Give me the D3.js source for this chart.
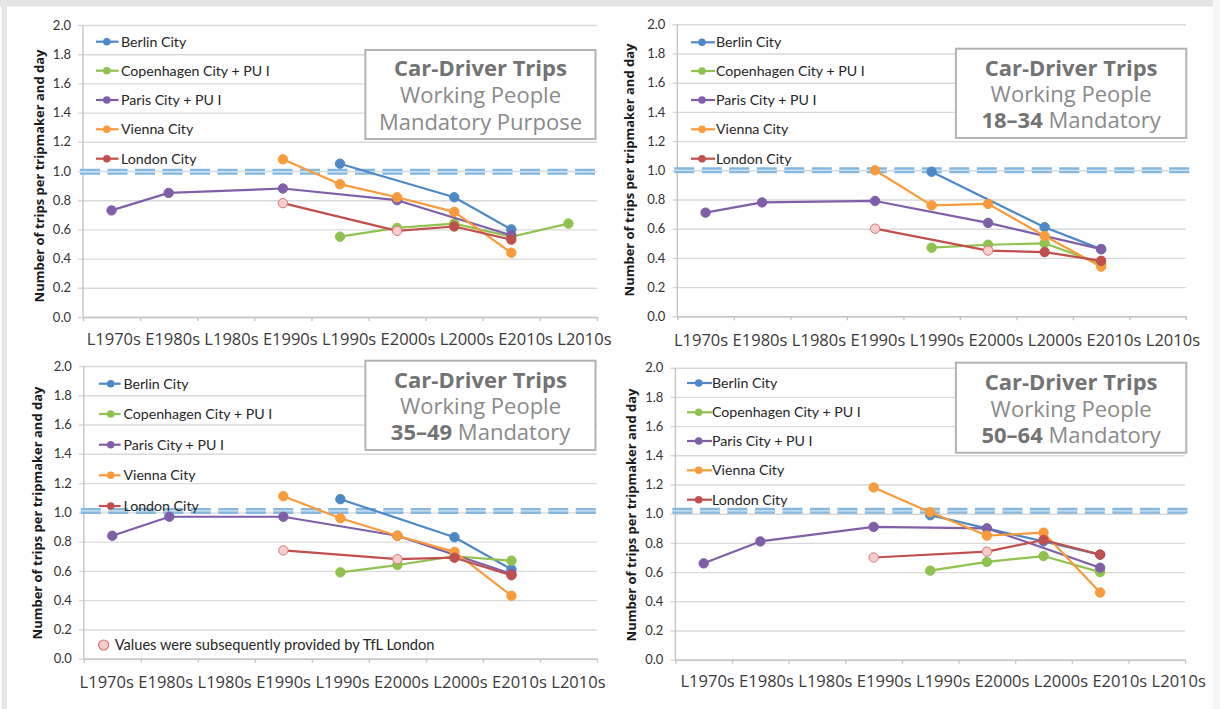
<!DOCTYPE html>
<html><head><meta charset="utf-8">
<script src="https://cdn.jsdelivr.net/npm/d3@7"></script>
<style>
body{margin:0;background:#fff;}
svg{display:block;}
</style></head>
<body>
<svg id="chart" width="1220" height="709"></svg>
<script>
// ---------- data ----------
const categories = ["L1970s","E1980s","L1980s","E1990s","L1990s","E2000s","L2000s","E2010s","L2010s"];
const seriesNames = ["Berlin City","Copenhagen City + PU I","Paris City + PU I","Vienna City","London City"];
const yTickValues = [0,0.2,0.4,0.6,0.8,1.0,1.2,1.4,1.6,1.8,2.0];
const referenceLevels = [0.995, 1.0, 1.01, 1.02];
const titleLine1 = "Car-Driver Trips";
const titleLine2 = "Working People";
const titleAgeGroups = ["", "18–34", "35–49", "50–64"];
const titleLine3Rest = ["Mandatory Purpose", " Mandatory", " Mandatory", " Mandatory"];
const yAxisTitle = "Number of trips per tripmaker and day";
const noteText = "Values were subsequently provided by TfL London";
const providedLaterCategories = ["E1990s","E2000s"];

// Working people, mandatory purpose (all ages)
const allBerlin     = [null,null,null,null,1.05,null,0.82,0.60,null];
const allCopenhagen = [null,null,null,null,0.55,0.61,0.64,0.55,0.64];
const allParis      = [0.73,0.85,null,0.88,null,0.80,null,0.56,null];
const allVienna     = [null,null,null,1.08,0.91,0.82,0.72,0.44,null];
const allLondon     = [null,null,null,0.78,null,0.59,0.62,0.53,null];
// 18–34
const a1834Berlin     = [null,null,null,null,0.99,null,0.61,0.46,null];
const a1834Copenhagen = [null,null,null,null,0.47,0.49,0.50,0.36,null];
const a1834Paris      = [0.71,0.78,null,0.79,null,0.64,null,0.46,null];
const a1834Vienna     = [null,null,null,1.00,0.76,0.77,0.55,0.34,null];
const a1834London     = [null,null,null,0.60,null,0.45,0.44,0.38,null];
// 35–49
const a3549Berlin     = [null,null,null,null,1.09,null,0.83,0.61,null];
const a3549Copenhagen = [null,null,null,null,0.59,0.64,0.70,0.67,null];
const a3549Paris      = [0.84,0.97,null,0.97,null,0.84,null,0.58,null];
const a3549Vienna     = [null,null,null,1.11,0.96,0.84,0.73,0.43,null];
const a3549London     = [null,null,null,0.74,null,0.68,0.69,0.57,null];
// 50–64
const a5064Berlin     = [null,null,null,null,0.99,null,0.81,0.72,null];
const a5064Copenhagen = [null,null,null,null,0.61,0.67,0.71,0.60,null];
const a5064Paris      = [0.66,0.81,null,0.91,null,0.90,null,0.63,null];
const a5064Vienna     = [null,null,null,1.18,1.01,0.85,0.87,0.46,null];
const a5064London     = [null,null,null,0.70,null,0.74,0.82,0.72,null];

const panelSeries = [
  [allBerlin, allCopenhagen, allParis, allVienna, allLondon],
  [a1834Berlin, a1834Copenhagen, a1834Paris, a1834Vienna, a1834London],
  [a3549Berlin, a3549Copenhagen, a3549Paris, a3549Vienna, a3549London],
  [a5064Berlin, a5064Copenhagen, a5064Paris, a5064Vienna, a5064London]
];

// ---------- styles / layout ----------
const seriesColors = ["#4e88c7","#8fc24f","#7f5fa8","#f99a3b","#c0504d"];
const pinkFill = "#f6cccc", pinkStroke = "#d47a78";
const layout = [
  {left:83,   right:597,    top:25,    bottom:317,   labelSpan:[86.2,611],   labelY:344.5, yTitle:[39,176],
   box:[365.4,50,595.5,139],   titleCx:480.5,  titleBase:[76,103,129.5],
   legend:{x1:96, x2:118.6, mx:106.8, tx:121}, legendY:[41.7,70.7,100,129.3,158.7]},
  {left:677.3,right:1185.9, top:24.3,  bottom:316.3, labelSpan:[673.4,1199.5], labelY:346, yTitle:[629.5,170],
   box:[955.9,48.7,1186.3,138], titleCx:1071.1, titleBase:[75.5,101.5,128],
   legend:{x1:691, x2:715, mx:702, tx:716}, legendY:[42.3,71,100,129.3,158.7]},
  {left:83.8, right:597,    top:366,   bottom:658.7, labelSpan:[79.1,605],   labelY:688, yTitle:[37.6,513],
   box:[365.4,360.7,595.5,450], titleCx:480.5, titleBase:[388,414,440],
   legend:{x1:98.9, x2:120.6, mx:110.7, tx:123.4}, legendY:[383.7,414,444.7,475.3,506]},
  {left:675.4,right:1185.1, top:367.7, bottom:659.7, labelSpan:[680,1205.3], labelY:687, yTitle:[631.4,515],
   box:[955.9,362.7,1186.3,452.7], titleCx:1071.1, titleBase:[390,416.5,443],
   legend:{x1:687, x2:712, mx:698.7, tx:712}, legendY:[383,412.3,441,470.3,499.7]}
];
const notePos = {cx:103.6, cy:645, tx:114.7, ty:650};

const svg = d3.select("#chart");

function measure(text, family, weight, size) {
  const t = svg.append("text").attr("font-family", family).attr("font-weight", weight)
    .attr("font-size", size).text(text);
  const w = t.node().getComputedTextLength();
  t.remove();
  return w;
}
function fit(text, family, weight, target) {
  return 100 * target / measure(text, family, weight, 100);
}

const LABEL_FONT = "'Open Sans', sans-serif";
const LEG_FONT = "Lato, 'Noto Sans', sans-serif";
const xLabelSize = fit(categories.join(" "), LABEL_FONT, 400, 524.8);
const yTitleSize = fit(yAxisTitle, LABEL_FONT, 700, 253);
const titleSize = fit(titleLine2, LABEL_FONT, 400, 161);
const legendSize = fit(seriesNames[1], LEG_FONT, 400, 149);
const noteSize = fit(noteText, LEG_FONT, 400, 320);

// frame
svg.append("rect").attr("x",0).attr("y",0).attr("width",1220).attr("height",709).attr("fill","#fff");
svg.append("rect").attr("x",0).attr("y",0).attr("width",1220).attr("height",6.5).attr("fill","#e4e4e4");
svg.append("rect").attr("x",1.5).attr("y",0).attr("width",5.5).attr("height",709).attr("fill","#e6e6e6");
svg.append("rect").attr("x",1213).attr("y",0).attr("width",7).attr("height",709).attr("fill","#f6f6f6");

layout.forEach((p, pi) => {
  const g = svg.append("g");
  const x = d3.scaleBand().domain(categories).range([p.left, p.right]).padding(0);
  const y = d3.scaleLinear().domain([0, 2]).range([p.bottom, p.top]);
  const cx = c => x(c) + x.bandwidth() / 2;

  // gridlines + y tick labels
  const gy = g.append("g").attr("transform", `translate(${p.left},0)`)
    .call(d3.axisLeft(y).tickValues(yTickValues).tickSize(-(p.right - p.left))
      .tickPadding(12).tickFormat(d3.format(".1f")));
  gy.select(".domain").remove();
  gy.selectAll(".tick line").attr("x1", -5).attr("stroke", "#d9d9d9").attr("stroke-width", 1.4);
  gy.selectAll(".tick text").attr("font-family", LEG_FONT).attr("font-size", 13).attr("fill", "#333");

  // left axis line
  g.append("line").attr("x1", p.left).attr("x2", p.left).attr("y1", p.top).attr("y2", p.bottom)
    .attr("stroke", "#c4c4c4").attr("stroke-width", 1.4);

  // x axis with boundary ticks
  const xb = d3.scaleLinear().domain([0, categories.length]).range([p.left, p.right]);
  const gx = g.append("g").attr("transform", `translate(0,${p.bottom})`)
    .call(d3.axisBottom(xb).tickValues(d3.range(categories.length + 1)).tickSize(4)
      .tickSizeOuter(0).tickFormat(""));
  gx.select(".domain").attr("stroke", "#c4c4c4").attr("stroke-width", 1.4);
  gx.selectAll(".tick line").attr("stroke", "#c4c4c4").attr("stroke-width", 1.4);

  // x labels (separate text row)
  const w0 = measure(categories[0], LABEL_FONT, 400, xLabelSize);
  const w8 = measure(categories[categories.length - 1], LABEL_FONT, 400, xLabelSize);
  const xl = d3.scalePoint().domain(categories).range([p.labelSpan[0] + w0 / 2, p.labelSpan[1] - w8 / 2]);
  const gl = g.append("g").attr("transform", `translate(0,${p.labelY})`)
    .call(d3.axisBottom(xl).tickSize(0).tickPadding(0));
  gl.select(".domain").remove();
  gl.selectAll(".tick text").attr("y", 0).attr("dy", 0).attr("font-family", LABEL_FONT)
    .attr("font-size", xLabelSize).attr("fill", "#3a3a3a");

  // y-axis title
  g.append("text").attr("transform", `translate(${p.yTitle[0]},${p.yTitle[1]}) rotate(-90)`)
    .attr("text-anchor", "middle").attr("dy", "0.35em")
    .attr("font-family", LABEL_FONT).attr("font-weight", 700).attr("font-size", yTitleSize)
    .attr("fill", "#1a1a1a").text(yAxisTitle);

  // reference double dashed line
  const ry = y(referenceLevels[pi]);
  g.append("line").attr("x1", p.left - 3).attr("x2", p.right + 5).attr("y1", ry).attr("y2", ry)
    .attr("stroke", "#86b8df").attr("stroke-width", 6).attr("stroke-dasharray", "20,7.5");
  g.append("line").attr("x1", p.left - 3).attr("x2", p.right + 5).attr("y1", ry).attr("y2", ry)
    .attr("stroke", "#d3e6f5").attr("stroke-width", 1.3).attr("stroke-dasharray", "20,7.5");

  // title box
  g.append("rect").attr("x", p.box[0]).attr("y", p.box[1])
    .attr("width", p.box[2] - p.box[0]).attr("height", p.box[3] - p.box[1])
    .attr("fill", "#fff").attr("stroke", "#b3b3b3").attr("stroke-width", 2);
  g.append("text").attr("x", p.titleCx).attr("y", p.titleBase[0]).attr("text-anchor", "middle")
    .attr("font-family", LABEL_FONT).attr("font-weight", 700).attr("font-size", titleSize)
    .attr("fill", "#737373").text(titleLine1);
  g.append("text").attr("x", p.titleCx).attr("y", p.titleBase[1]).attr("text-anchor", "middle")
    .attr("font-family", LABEL_FONT).attr("font-size", titleSize)
    .attr("fill", "#8a8a8a").text(titleLine2);
  const t3 = g.append("text").attr("x", p.titleCx).attr("y", p.titleBase[2]).attr("text-anchor", "middle")
    .attr("font-family", LABEL_FONT).attr("font-size", titleSize).attr("fill", "#8a8a8a");
  if (titleAgeGroups[pi]) t3.append("tspan").attr("font-weight", 700).attr("fill", "#737373").text(titleAgeGroups[pi]);
  t3.append("tspan").text(titleLine3Rest[pi]);

  // legend
  seriesNames.forEach((name, si) => {
    const ly = p.legendY[si];
    g.append("line").attr("x1", p.legend.x1).attr("x2", p.legend.x2).attr("y1", ly).attr("y2", ly)
      .attr("stroke", seriesColors[si]).attr("stroke-width", 2.2);
    g.append("circle").attr("cx", p.legend.mx).attr("cy", ly).attr("r", 3.8).attr("fill", seriesColors[si]);
    g.append("text").attr("x", p.legend.tx).attr("y", ly).attr("dy", "0.36em")
      .attr("font-family", LEG_FONT).attr("font-size", legendSize).attr("fill", "#262626").text(name);
  });

  // series
  panelSeries[pi].forEach((vals, si) => {
    const pts = categories.map((c, i) => ({c, v: vals[i]})).filter(d => d.v != null);
    g.append("path").datum(pts)
      .attr("d", d3.line().x(d => cx(d.c)).y(d => y(d.v)))
      .attr("fill", "none").attr("stroke", seriesColors[si]).attr("stroke-width", 2.2)
      .attr("stroke-linejoin", "round");
    g.selectAll(null).data(pts).enter().append("circle")
      .attr("cx", d => cx(d.c)).attr("cy", d => y(d.v)).attr("r", 4.7)
      .attr("fill", d => (si === 4 && providedLaterCategories.includes(d.c)) ? pinkFill : seriesColors[si])
      .attr("stroke", d => (si === 4 && providedLaterCategories.includes(d.c)) ? pinkStroke : seriesColors[si])
      .attr("stroke-width", 1);
  });

  if (pi === 2) {
    g.append("circle").attr("cx", notePos.cx).attr("cy", notePos.cy).attr("r", 5)
      .attr("fill", pinkFill).attr("stroke", pinkStroke).attr("stroke-width", 1.2);
    g.append("text").attr("x", notePos.tx).attr("y", notePos.ty)
      .attr("font-family", LEG_FONT).attr("font-size", noteSize).attr("fill", "#262626").text(noteText);
  }
});
</script>
</body></html>
